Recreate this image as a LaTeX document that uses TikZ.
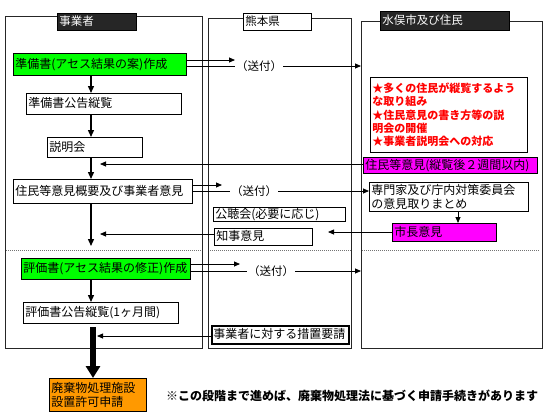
\documentclass[tikz,border=0pt]{standalone}
\usepackage{fontspec}
\setmainfont{Noto Sans CJK JP}
\usetikzlibrary{arrows.meta}
\definecolor{gbox}{HTML}{00FF00}
\definecolor{mbox}{HTML}{FF00FF}
\definecolor{obox}{HTML}{FF9900}
\definecolor{hdark}{HTML}{262626}
\definecolor{redtxt}{HTML}{FF0000}
\newcommand\fmain{\fontsize{12}{14}\selectfont}
\newcommand\fhead{\fontsize{11.5}{13}\selectfont}
\newcommand\fred{\fontsize{11}{13.3}\selectfont\bfseries}
\newcommand\fsend{\fontsize{11.5}{13}\selectfont}
\tikzset{
  bxm/.style={draw, line width=0.8pt, inner xsep=2pt, inner ysep=0pt, align=left,
    anchor=north west, font=\fmain},
  bx/.style={bxm, text height=9.6pt, text depth=1.6pt},
  frame/.style={draw, line width=0.8pt, draw=black!85, anchor=north west, inner sep=0pt},
  hd/.style={bx, font=\fhead, fill=hdark, text=white},
  arr/.style={line width=0.8pt, -{Triangle[length=6pt,width=5pt]}},
  varr/.style={line width=1.3pt, -{Triangle[length=7pt,width=6pt]}},
  bigarr/.style={line width=5.5pt, -{Triangle[length=12pt,width=14pt]}},
  sendlbl/.style={fill=white, inner sep=1pt, font=\fsend},
  sep/.style={line width=0.7pt, draw=black!55, dash pattern=on 1pt off 1pt}
}
\begin{document}
\begin{tikzpicture}[x=1pt,y=-1pt]
\useasboundingbox[fill=white] (0,0) rectangle (550,418);
% column frames
\node[frame, minimum width=197pt, minimum height=332pt] (f1) at (5,16) {};
\node[frame, minimum width=143pt, minimum height=330pt] (f2) at (208,18) {};
\node[frame, minimum width=181pt, minimum height=327pt] (f3) at (361,21) {};
% headers
\node[hd, text width=75pt, minimum height=17pt] (h1) at (57,13) {事業者};
\node[bx, font=\fhead, fill=white, text width=64pt, minimum height=17pt] (h2) at (243,13) {熊本県};
\node[hd, text width=125pt, minimum height=19pt] (h3) at (380,11) {水俣市及び住民};
% separators
\coordinate (sy) at (0,250);
\draw[sep] ([xshift=1pt]f1.west |- sy) -- ([xshift=-1pt]f1.east |- sy);
\draw[sep] ([xshift=2pt]f2.west |- sy) -- ([xshift=-1pt]f2.east |- sy);
\draw[sep] ([xshift=1pt]f3.west |- sy) -- ([xshift=-4pt]f3.east |- sy);
% column 1 boxes
\node[bx, fill=gbox, text width=169pt, minimum height=22pt] (g1) at (13,53) {準備書(アセス結果の案)作成};
\node[bx, text width=151pt, minimum height=21pt] (b2) at (26,93) {準備書公告縦覧};
\node[bx, text width=91pt, minimum height=20pt] (b3) at (47,137) {説明会};
\node[bx, text width=175pt, minimum height=24pt] (b4) at (13,179) {住民等意見概要及び事業者意見};
\node[bx, fill=gbox, text width=165pt, minimum height=21pt] (g2) at (21,258) {評価書(アセス結果の修正)作成};
\node[bx, text width=151pt, minimum height=21pt] (b6) at (23,302) {評価書公告縦覧(1ヶ月間)};
\node[bxm, fill=obox, text width=93pt, minimum height=33pt] (ob) at (49,378) {廃棄物処理施設\\設置許可申請};
% column 2 boxes
\node[bx, text width=128pt, minimum height=14pt, text height=9.2pt, text depth=1.4pt] (kocho) at (213,207) {公聴会(必要に応じ)};
\node[bx, text width=94pt, minimum height=17pt] (chiji) at (214,228) {知事意見};
\node[bx, line width=0.7pt, text width=134pt, minimum height=19pt] (sochi) at (211,325) {事業者に対する措置要請};
\draw[line width=0.45pt] ([shift={(1.6,1.6)}]sochi.north west) rectangle ([shift={(-1.6,-1.6)}]sochi.south east);
% column 3 boxes
\node[bxm, text width=153pt, minimum height=75pt, font=\fred, text=redtxt] (red) at (370,77)
  {★多くの住民が縦覧するよう\\な取り組み\\★住民意見の書き方等の説\\明会の開催\\★事業者説明会への対応};
\node[bx, fill=mbox, text width=170pt, minimum height=16pt] (jumin) at (363,157) {住民等意見(縦覧後２週間以内)};
\node[bxm, text width=155pt, minimum height=29pt] (senmon) at (369,182) {専門家及び庁内対策委員会\\の意見取りまとめ};
\node[bx, fill=mbox, text width=100pt, minimum height=18pt] (shicho) at (392,223) {市長意見};
% vertical flow
\coordinate (cx) at (91,0);
\draw[varr] (g1.south -| cx) -- (b2.north -| cx);
\draw[varr] (b2.south -| cx) -- (b3.north -| cx);
\draw[varr] (b3.south -| cx) -- (b4.north -| cx);
\coordinate (e4) at (91,246);
\draw[varr] (b4.south -| cx) -- (e4);
\draw[varr] (g2.south -| cx) -- (b6.north -| cx);
\coordinate (k0) at (93,327);
\draw[bigarr] (k0) -- (ob.north -| k0);
\coordinate (cm) at (458,0);
\draw[arr] (senmon.south -| cm) -- (shicho.north -| cm);
% sends
\coordinate (s1) at (235,60);
\draw[arr] (g1.east |- s1) -- (s1);
\coordinate (s1b) at (0,66);
\draw[arr] (g1.east |- s1b) -- (f3.west |- s1b);
\node[sendlbl] (l1) at (259,66) {（送付）};
\coordinate (s2) at (222,185);
\draw[arr] (b4.east |- s2) -- (s2);
\coordinate (s2b) at (0,191);
\draw[arr] (b4.east |- s2b) -- (senmon.west |- s2b);
\node[sendlbl] (l2) at (254,191) {（送付）};
\coordinate (s3) at (240,264);
\draw[arr] (g2.east |- s3) -- (s3);
\coordinate (s3b) at (0,271);
\draw[arr] (g2.east |- s3b) -- (f3.west |- s3b);
\node[sendlbl] (l3) at (271,271) {（送付）};
% returns
\coordinate (t1) at (100,164);
\draw[arr] (jumin.west |- t1) -- (t1);
\coordinate (t2) at (100,234);
\draw[arr] (chiji.west |- t2) -- (t2);
\coordinate (t3) at (328,232);
\draw[arr] (shicho.west |- t3) -- (t3);
\coordinate (t4) at (97,336);
\draw[arr] (sochi.west |- t4) -- (t4);
% note
\node[anchor=west, inner sep=0pt, font=\fontsize{12}{14}\selectfont\bfseries] (note) at (166,396)
  {※この段階まで進めば、廃棄物処理法に基づく申請手続きがあります};
\end{tikzpicture}
\end{document}
